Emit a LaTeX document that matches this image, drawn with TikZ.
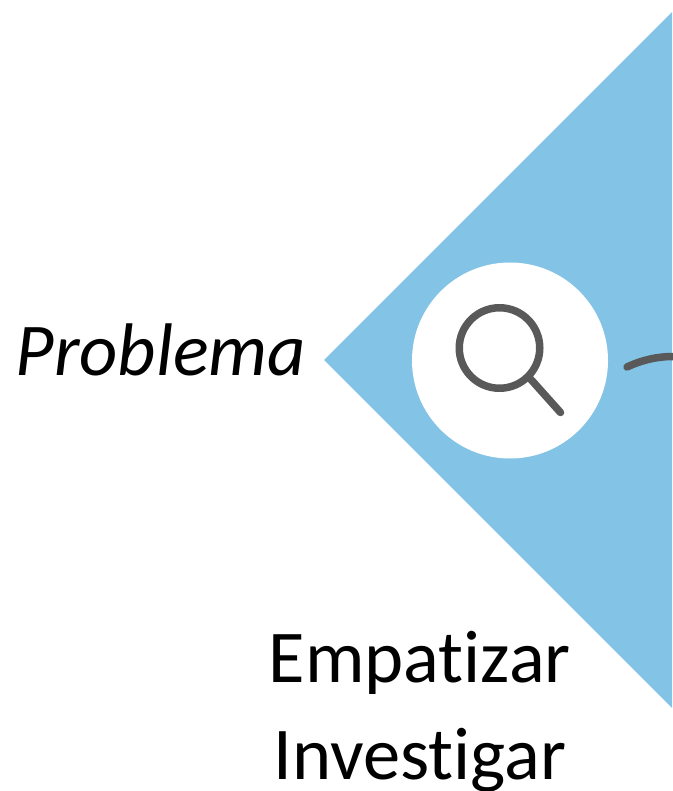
\documentclass[tikz,border=0pt]{standalone}
\usepackage{fontspec}
\setmainfont[RawFeature={-liga}]{Carlito}
\usepackage{tikz}
\usetikzlibrary{positioning}
\definecolor{myblue}{RGB}{131,196,230}
\definecolor{mygray}{RGB}{89,89,89}
\tikzset{mylabel/.style = {inner sep=0pt,font=\fontsize{74.5}{89}\selectfont},
	myline/.style = {draw=mygray,line width=7.5pt,line cap=round}}
\begin{document}
\begin{tikzpicture}[x=1pt,y=-1pt]
\useasboundingbox (0,0) rectangle (672,791);
\fill[myblue] (324,360) -- (672,12) -- (672,708) -- cycle;
\node[circle,fill=white,minimum size=196pt,inner sep=0pt] (disc) at (510,360.5) {};
\node[circle,draw=mygray,line width=7.5pt,minimum size=80.5pt,inner sep=0pt] (lens) at (499.5,348) {};
\coordinate (handle) at (560.5,412.5);
\draw[myline] (lens.south east) -- (handle);
\coordinate (arcstart) at (627,367);
\coordinate (arcend) at (673,356.5);
\draw[myline] (arcstart) .. controls (642,360) and (657,356.5) .. (arcend);
\node[mylabel,anchor=base west] (problema) at (15.5,375) {\itshape Problema};
\node[mylabel,anchor=base east] (empatizar) at (571,682) {Empatizar};
\node[mylabel,anchor=base east] (investigar) at (566.5,779) {Investigar};
\end{tikzpicture}
\end{document}
